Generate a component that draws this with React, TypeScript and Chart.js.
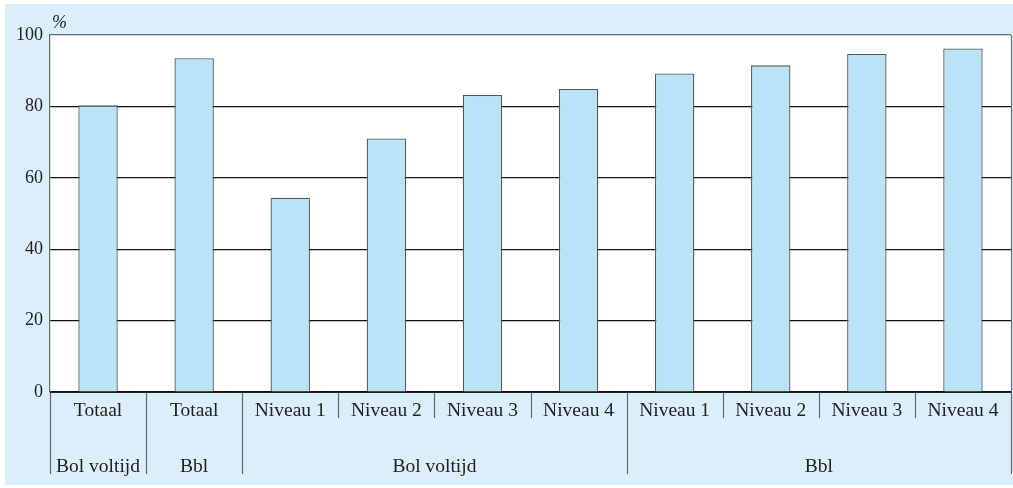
import React, { useEffect, useRef } from "react";
import { Chart, registerables } from "chart.js";

Chart.register(...registerables);

const categories = ["Totaal", "Totaal", "Niveau 1", "Niveau 2", "Niveau 3", "Niveau 4", "Niveau 1", "Niveau 2", "Niveau 3", "Niveau 4"];
const values = [80.3, 93.5, 54.4, 71.0, 83.2, 84.9, 89.2, 91.5, 94.7, 96.2];
const groups = [
  { label: "Bol voltijd", from: 0, to: 0 },
  { label: "Bbl", from: 1, to: 1 },
  { label: "Bol voltijd", from: 2, to: 5 },
  { label: "Bbl", from: 6, to: 9 },
];
const yTicks = [0, 20, 40, 60, 80, 100];
const unitLabel = "%";

const FONT = "'Liberation Serif', 'Times New Roman', serif";
const BG = "#daeffa";
const BAR = "#b9e4f8";
const LINE = "#6a6a6a";

const decorPlugin = {
  id: "decor",
  beforeDraw(chart: any) {
    const { ctx, chartArea } = chart;
    ctx.save();
    ctx.fillStyle = BG;
    ctx.fillRect(5, 4, 1008, 481);
    ctx.fillStyle = "#ffffff";
    ctx.fillRect(chartArea.left, chartArea.top, chartArea.right - chartArea.left, chartArea.bottom - chartArea.top);
    ctx.restore();
  },
  afterDraw(chart: any) {
    const { ctx, chartArea } = chart;
    const x = chart.scales.x;
    const n = categories.length;
    const half = (x.getPixelForValue(1) - x.getPixelForValue(0)) / 2;
    const edge = (i: number) => x.getPixelForValue(i) - half;
    const bottom = chartArea.bottom;
    ctx.save();
    ctx.strokeStyle = LINE;
    ctx.lineWidth = 1.2;
    const groupEdges = new Set<number>();
    groups.forEach((g) => { groupEdges.add(g.from); groupEdges.add(g.to + 1); });
    for (let i = 0; i <= n; i++) {
      const px = Math.round(edge(i)) + 0.5;
      const long = groupEdges.has(i);
      ctx.beginPath();
      ctx.moveTo(px, i === n ? chartArea.top : bottom);
      ctx.lineTo(px, long ? 474 : 418);
      ctx.stroke();
    }
    ctx.fillStyle = "#222";
    ctx.font = `19.5px ${FONT}`;
    ctx.textAlign = "center";
    ctx.textBaseline = "middle";
    categories.forEach((c, i) => {
      ctx.fillText(c, x.getPixelForValue(i), 411);
    });
    groups.forEach((g) => {
      const cx = (edge(g.from) + edge(g.to + 1)) / 2;
      ctx.fillText(g.label, cx, 467);
    });
    ctx.font = `italic 18px ${FONT}`;
    ctx.textAlign = "left";
    ctx.fillText(unitLabel, chartArea.left + 2, 23);
    ctx.strokeStyle = "#222";
    ctx.lineWidth = 1.2;
    ctx.beginPath();
    ctx.moveTo(chartArea.left, Math.round(bottom) + 0.5);
    ctx.lineTo(chartArea.right, Math.round(bottom) + 0.5);
    ctx.stroke();
    ctx.restore();
  },
};

export default function App() {
  const ref = useRef<HTMLCanvasElement>(null);
  useEffect(() => {
    if (!ref.current) return;
    const chart = new Chart(ref.current, {
      type: "bar",
      data: {
        labels: categories,
        datasets: [
          {
            data: values,
            backgroundColor: BAR,
            borderColor: "#555",
            borderWidth: 1.3,
            borderSkipped: "bottom",
            categoryPercentage: 1,
            barPercentage: 0.41,
          },
        ],
      },
      options: {
        responsive: false,
        animation: false,
        layout: { padding: { top: 35, bottom: 96, right: 2, left: 0 } },
        plugins: { legend: { display: false }, tooltip: { enabled: false } },
        scales: {
          x: {
            display: false,
            grid: { display: false },
          },
          y: {
            min: 0,
            max: 100,
            afterFit: (s: any) => { s.width = 50; },
            afterBuildTicks: (s: any) => { s.ticks = yTicks.map((v) => ({ value: v })); },
            ticks: {
              font: { family: FONT, size: 18 },
              color: "#222",
              padding: 7,
            },
            border: { display: true, color: LINE, width: 1.2 },
            grid: {
              drawTicks: false,
              color: (c: any) => (c.tick && c.tick.value === 100 ? LINE : "#111"),
              lineWidth: 1.2,
            },
          },
        },
      },
      plugins: [decorPlugin],
    });
    return () => chart.destroy();
  }, []);
  return (
    <div style={{ position: "fixed", left: 0, top: 0, width: 1013, height: 488 }}>
      <canvas ref={ref} width={1013} height={488} style={{ display: "block" }} />
    </div>
  );
}
